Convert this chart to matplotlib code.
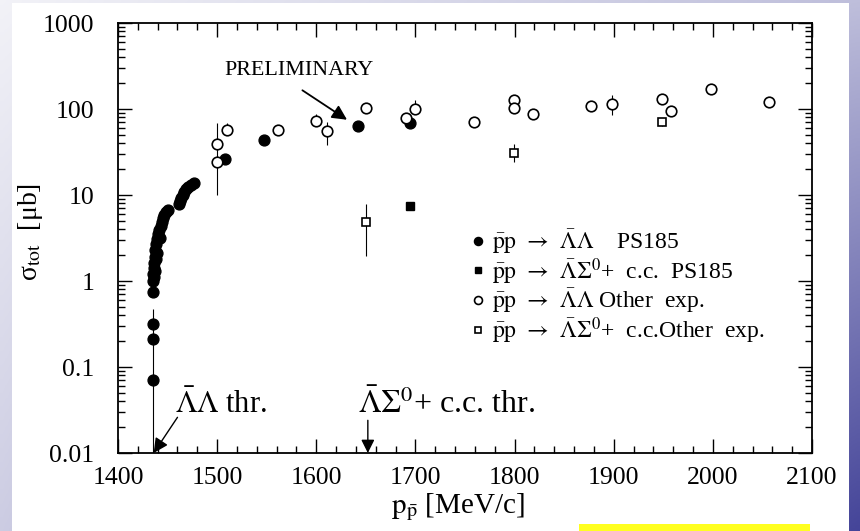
import numpy as np
import matplotlib
matplotlib.use("Agg")
import matplotlib.pyplot as plt
from matplotlib.ticker import FixedLocator, FixedFormatter, MultipleLocator, LogLocator, NullFormatter
from matplotlib.patches import Rectangle

plt.rcParams['font.family'] = 'serif'
plt.rcParams['font.serif'] = ['Liberation Serif', 'DejaVu Serif']
plt.rcParams['mathtext.fontset'] = 'stix'

# ---------------- data ----------------
# PS185  pbar p -> Lambdabar Lambda (filled circles)
ps_ll_x = [1435.0, 1435.0, 1435.0, 1435.2, 1435.5, 1435.8, 1436.0, 1436.3, 1436.6, 1437.0,
           1437.3, 1437.6, 1438.0, 1438.5, 1439.0, 1439.5, 1440.0, 1441.0, 1442.0, 1443.0,
           1444.0, 1445.0, 1446.5, 1448.0, 1450.0, 1462.0, 1463.0, 1464.0, 1465.5, 1467.0,
           1469.0, 1471.0, 1474.0, 1477.0, 1508.0, 1547.0, 1642.0, 1695.0]
ps_ll_y = [0.07, 0.21, 0.32, 0.75, 1.0, 1.2, 1.4, 1.1, 1.6, 1.9,
           1.3, 2.3, 1.8, 2.7, 2.1, 3.1, 3.5, 3.9, 3.2, 4.4,
           4.9, 5.4, 5.9, 6.3, 6.7, 7.8, 8.6, 9.2, 10.0, 10.8,
           11.6, 12.4, 13.0, 13.8, 26.0, 44.0, 63.0, 68.0]
ps_ll_err_lo = [0.06] + [0.0] * 37
ps_ll_err_hi = [0.40] + [0.0] * 37

# PS185  pbar p -> Lambdabar Sigma0 + c.c. (filled square)
ps_ls_x = [1695.0]
ps_ls_y = [7.4]

# Other experiments  pbar p -> Lambdabar Lambda (open circles)
oth_ll_x = [1500, 1500, 1510, 1561, 1600, 1611, 1650, 1690, 1700, 1759,
            1799, 1799, 1819, 1877, 1898, 1949, 1958, 1998, 2057]
oth_ll_y = [24, 39, 57, 57, 73, 56, 104, 79, 101, 70,
            128, 104, 88, 107, 115, 132, 96, 172, 122]
oth_ll_err_lo = [14, 0, 6, 0, 5, 18, 0, 0, 5, 0, 0, 0, 0, 0, 29, 0, 0, 0, 0]
oth_ll_err_hi = [15, 29, 12, 0, 15, 14, 0, 0, 27, 0, 0, 0, 0, 0, 32, 0, 0, 0, 0]

# Other experiments  pbar p -> Lambdabar Sigma0 + c.c. (open squares)
oth_ls_x = [1650, 1799, 1949]
oth_ls_y = [4.8, 31, 71]
oth_ls_err_lo = [2.85, 6.5, 8]
oth_ls_err_hi = [3.0, 7.7, 6]

thr_ll = 1435.0
thr_ls = 1652.0

x_ticks = [1400, 1500, 1600, 1700, 1800, 1900, 2000, 2100]
y_ticks = [0.01, 0.1, 1, 10, 100, 1000]
y_tick_labels = ['0.01', '0.1', '1', '10', '100', '1000']

arrow = r'$\mathrm{\bar{p}p}\;\,\rightarrow\;\,'
labels = [arrow + r'\bar{\Lambda}\Lambda$    PS185',
          arrow + r'\bar{\Lambda}\Sigma^{0}$+  c.c.  PS185',
          arrow + r'\bar{\Lambda}\Lambda$ Other  exp.',
          arrow + r'\bar{\Lambda}\Sigma^{0}$+  c.c.Other  exp.']

# ---------------- figure ----------------
fig = plt.figure(figsize=(8.6, 5.31), dpi=100)

# slide background gradient
bg = fig.add_axes([0, 0, 1, 1], zorder=-10)
gx, gy = np.meshgrid(np.linspace(0, 1, 200), np.linspace(0, 1, 200))
t = 0.22 * gy + 0.30 * gx + 0.48 * gx * gy
c0 = np.array([0.95, 0.95, 0.97])
c1 = np.array([0.27, 0.27, 0.60])
img = c0[None, None, :] * (1 - t[..., None]) + c1[None, None, :] * t[..., None]
bg.imshow(img, extent=[0, 1, 0, 1], origin='upper', aspect='auto')
bg.add_patch(Rectangle((12 / 860, 0), (849 - 12) / 860, 1 - 3 / 531,
                       facecolor='white', edgecolor='none'))
bg.add_patch(Rectangle((579 / 860, 0), (810 - 579) / 860, 7 / 531,
                       facecolor='#ffff20', edgecolor='none'))
bg.set_xlim(0, 1)
bg.set_ylim(0, 1)
bg.axis('off')

ax = fig.add_axes([118 / 860, 1 - 453 / 531, (812 - 118) / 860, (453 - 23) / 531])
ax.patch.set_alpha(0)

h1 = ax.errorbar(ps_ll_x, ps_ll_y, yerr=[ps_ll_err_lo, ps_ll_err_hi], fmt='o', color='black',
                 markersize=7.8, elinewidth=0.8, capsize=0, zorder=3)
h2, = ax.plot(ps_ls_x, ps_ls_y, 's', color='black', markersize=6)
h3 = ax.errorbar(oth_ll_x, oth_ll_y, yerr=[oth_ll_err_lo, oth_ll_err_hi], fmt='o', mfc='white',
                 mec='black', mew=1.2, color='black', markersize=7.6, elinewidth=0.8, capsize=0,
                 zorder=4)
h4 = ax.errorbar(oth_ls_x, oth_ls_y, yerr=[oth_ls_err_lo, oth_ls_err_hi], fmt='s', mfc='white',
                 mec='black', mew=1.2, color='black', markersize=6, elinewidth=0.8, capsize=0,
                 zorder=4)

ax.set_yscale('log')
ax.set_xlim(1400, 2100)
ax.set_ylim(0.01, 1000)

ax.xaxis.set_major_locator(FixedLocator(x_ticks))
ax.xaxis.set_minor_locator(MultipleLocator(20))
ax.yaxis.set_major_locator(FixedLocator(y_ticks))
ax.yaxis.set_major_formatter(FixedFormatter(y_tick_labels))
ax.yaxis.set_minor_locator(LogLocator(base=10, subs=np.arange(2, 10)))
ax.yaxis.set_minor_formatter(NullFormatter())

ax.tick_params(which='both', direction='in', top=True, right=True, width=1.0,
               labelsize=18.5, colors='black')
ax.tick_params(which='major', length=10)
ax.tick_params(axis='x', which='major', pad=10)
ax.tick_params(axis='y', which='major', pad=17)
ax.tick_params(which='minor', length=5)
for s in ax.spines.values():
    s.set_linewidth(1.3)

ax.set_xlabel(r'$\mathrm{p}_{\bar{\mathrm{p}}}$ [MeV/c]', fontsize=21)
ax.xaxis.set_label_coords(0.49, -0.088)
ax.set_ylabel(r'σ$_{\mathrm{tot}}$  [μb]', fontsize=20)
ax.yaxis.set_label_coords(-0.105, 0.515)

# annotations
ax.text(1583, 280, 'PRELIMINARY', fontsize=15.8, ha='center', va='center')
ax.annotate('', xy=(1631, 75), xytext=(1586, 165),
            arrowprops=dict(arrowstyle='-|>', color='black', lw=1.3, mutation_scale=22,
                            shrinkA=0, shrinkB=0))
ax.text(1457, 0.0242, r'$\bar{\Lambda}\Lambda$ thr.', fontsize=22, ha='left', va='bottom')
ax.annotate('', xy=(thr_ll + 1, 0.01), xytext=(1460, 0.026),
            arrowprops=dict(arrowstyle='-|>', color='black', lw=1.0, mutation_scale=22,
                            shrinkA=0, shrinkB=0))
ax.text(1642, 0.0242, r'$\bar{\Lambda}\Sigma^{0}$+ c.c. thr.', fontsize=23, ha='left', va='bottom')
ax.annotate('', xy=(thr_ls, 0.01), xytext=(thr_ls, 0.024),
            arrowprops=dict(arrowstyle='-|>', color='black', lw=1.0, mutation_scale=20,
                            shrinkA=0, shrinkB=0))

leg = ax.legend([h1[0], h2, h3[0], h4[0]], labels, loc='upper left',
                bbox_to_anchor=(0.510, 0.525), frameon=False,
                fontsize=17, markerscale=0.75, handlelength=0.48, handletextpad=0.38,
                labelspacing=0.0, borderpad=0, borderaxespad=0)

fig.savefig('out.png', dpi=100)
